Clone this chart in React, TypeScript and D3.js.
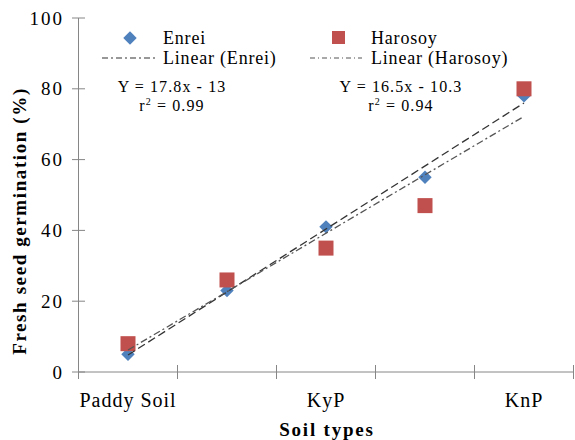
import * as d3 from "d3";

const soils = ["Paddy Soil", "2", "KyP", "4", "KnP"];
const tickLabels = ["Paddy Soil", "", "KyP", "", "KnP"];
const enrei = [5, 23, 41, 55, 78];
const harosoy = [8, 26, 35, 47, 80];
const yTicks = [0, 20, 40, 60, 80, 100];
// trend line coefficients as printed on the chart
const enreiFit = [17.8, -13];
const harosoyFit = [16.5, -10.3];

const W = 575;
const H = 440;
const font = "Liberation Serif, DejaVu Serif, serif";

export default function App() {
  const x = d3.scaleBand().domain(soils).range([78.5, 573.5]).padding(0);
  const y = d3.scaleLinear().domain([0, 100]).range([372, 18]);
  const cx = (i: number) => (x(soils[i]) as number) + x.bandwidth() / 2;

  const fitLine = (fit: number[]) =>
    d3
      .line<number>()
      .x((i) => cx(i))
      .y((i) => y(fit[0] * (i + 1) + fit[1]))([0, soils.length - 1]) as string;

  const diamond = d3.symbol().type(d3.symbolDiamond2).size(115)() as string;
  const axisCol = "#868686";
  const bandEdges = [...soils.map((s) => x(s) as number), x.range()[1]];

  return (
    <svg
      width={W}
      height={H}
      style={{ position: "absolute", left: 0, top: 0, fontFamily: font }}
    >
      <rect width={W} height={H} fill="#fff" />
      {/* y axis */}
      <line x1={78.5} x2={78.5} y1={y(100)} y2={y(0)} stroke={axisCol} />
      {yTicks.map((t) => (
        <g key={t}>
          <line x1={72} x2={85} y1={y(t)} y2={y(t)} stroke={axisCol} />
          <text x={64} y={y(t)} dy="0.35em" textAnchor="end" fontSize={19} letterSpacing={2}>
            {t}
          </text>
        </g>
      ))}
      {/* x axis */}
      <line x1={78.5} x2={573.5} y1={y(0)} y2={y(0)} stroke={axisCol} />
      {bandEdges.map((e, i) => (
        <line key={i} x1={e} x2={e} y1={y(0) - 7} y2={y(0) + 7} stroke={axisCol} />
      ))}
      {tickLabels.map((l, i) => (
        <text key={i} x={cx(i)} y={407} textAnchor="middle" fontSize={20} letterSpacing={1}>
          {l}
        </text>
      ))}
      <text x={327} y={436} textAnchor="middle" fontSize={19} fontWeight="bold" letterSpacing={1.8}>
        Soil types
      </text>
      <text
        transform={`translate(26,221) rotate(-90)`}
        textAnchor="middle"
        fontSize={19}
        fontWeight="bold"
        letterSpacing={1.6}
      >
        Fresh seed germination (%)
      </text>

      {/* points: Enrei first, Harosoy squares on top */}
      {enrei.map((v, i) => (
        <path key={i} d={diamond} transform={`translate(${cx(i)},${y(v)})`} fill="#4F81BD" />
      ))}
      {harosoy.map((v, i) => (
        <rect key={i} x={cx(i) - 7.5} y={y(v) - 7.5} width={15} height={15} fill="#C0504D" />
      ))}

      {/* trend lines */}
      <path d={fitLine(enreiFit)} fill="none" stroke="#333" strokeWidth={1.3} strokeDasharray="8,4" />
      <path
        d={fitLine(harosoyFit)}
        fill="none"
        stroke="#555"
        strokeWidth={1.3}
        strokeDasharray="7,3,2,3"
      />

      {/* legend */}
      <g fontSize={18} letterSpacing={0.8}>
        <path d={diamond} transform="translate(130,38)" fill="#4F81BD" />
        <text x={163} y={38} dy="0.35em">
          Enrei
        </text>
        <line x1={102} x2={155} y1={58} y2={58} stroke="#333" strokeWidth={1.2} strokeDasharray="6,3,2,3" />
        <text x={163} y={58} dy="0.35em">
          Linear (Enrei)
        </text>
        <rect x={332} y={31} width={13} height={13} fill="#C0504D" />
        <text x={371} y={38} dy="0.35em">
          Harosoy
        </text>
        <line x1={310} x2={362} y1={58} y2={58} stroke="#555" strokeWidth={1.2} strokeDasharray="5,3,1,3" />
        <text x={371} y={58} dy="0.35em">
          Linear (Harosoy)
        </text>
      </g>

      {/* equations */}
      <g fontSize={16} letterSpacing={1.1} textAnchor="middle">
        <text x={172} y={86} dy="0.35em">
          Y = 17.8x - 13
        </text>
        <text x={172} y={105} dy="0.35em">
          r<tspan fontSize={10} dy="-6">2</tspan>
          <tspan dy="6"> = 0.99</tspan>
        </text>
        <text x={401} y={86} dy="0.35em">
          Y = 16.5x - 10.3
        </text>
        <text x={401} y={105} dy="0.35em">
          r<tspan fontSize={10} dy="-6">2</tspan>
          <tspan dy="6"> = 0.94</tspan>
        </text>
      </g>
    </svg>
  );
}
